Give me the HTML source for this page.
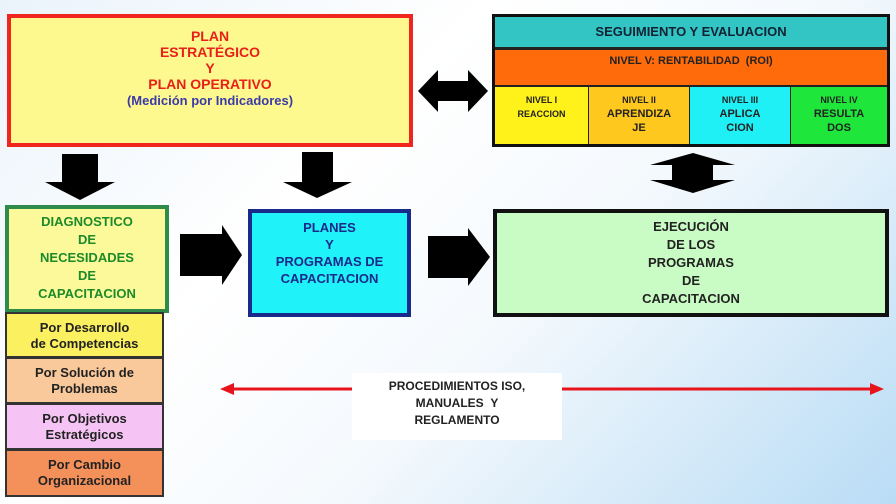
<!DOCTYPE html>
<html><head><meta charset="utf-8"><style>
html,body{margin:0;padding:0}
body{width:896px;height:504px;overflow:hidden;background:linear-gradient(135deg,#eaf3fb 0%,#ffffff 35%,#f4f9fd 60%,#b9dcf5 100%);position:relative;font-family:"Liberation Sans",sans-serif;font-weight:bold}
.b{position:absolute;box-sizing:border-box;text-align:center}
svg{position:absolute;left:0;top:0}
</style></head><body>
<svg width="896" height="504">
<g fill="#000">
<polygon points="418,91 438,70 438,81 468,81 468,70 488,91 468,112 468,101 438,101 438,112"/>
<polygon points="693,153 735,165 713,165 713,180 735,180 693,193 650,180 672,180 672,165 650,165"/>
<polygon points="62,154 98,154 98,182 115,182 80,200 45,182 62,182"/>
<polygon points="302,152 333,152 333,182 352,182 317,198 283,182 302,182"/>
<polygon points="180,234 222,234 222,225 242,255 222,285 222,276 180,276"/>
<polygon points="428,236 468,236 468,228 490,257 468,286 468,278 428,278"/>
</g>
<line x1="232" y1="389" x2="874" y2="389" stroke="#e8141c" stroke-width="3"/>
<polygon points="220,389 234,383 234,395" fill="#e8141c"/>
<polygon points="884,389 870,383 870,395" fill="#e8141c"/>
</svg>

<div class="b" style="left:7px;top:14px;width:406px;height:133px;border:4px solid #f0261e;background:#fdf98f;padding-top:10px;color:#e8201a;font-size:14px;line-height:16px">PLAN<br>ESTRATÉGICO<br>Y<br>PLAN OPERATIVO<br><span style="color:#3a3aa8;font-size:13px">(Medición por Indicadores)</span></div>

<div class="b" style="left:492px;top:14px;width:398px;height:133px;border:3px solid #111;background:#222"></div>
<div class="b" style="left:495px;top:17px;width:392px;height:30px;background:#33c4c4;color:#123;font-size:13px;line-height:30px">SEGUIMIENTO Y EVALUACION</div>
<div class="b" style="left:495px;top:50px;width:392px;height:35px;background:#ff6a0a;color:#222;font-size:11px;line-height:22px">NIVEL V: RENTABILIDAD &nbsp;(ROI)</div>
<div class="b" style="left:495px;top:87px;width:93px;height:57px;background:#fff21a;color:#222;font-size:9px;line-height:14px;padding-top:6px">NIVEL I<br>REACCION</div>
<div class="b" style="left:589px;top:87px;width:100px;height:57px;background:#ffc81e;color:#222;font-size:11px;line-height:14px;padding-top:6px"><span style="font-size:9px">NIVEL II</span><br>APRENDIZA<br>JE</div>
<div class="b" style="left:690px;top:87px;width:100px;height:57px;background:#1ff0f5;color:#222;font-size:11px;line-height:14px;padding-top:6px"><span style="font-size:9px">NIVEL III</span><br>APLICA<br>CION</div>
<div class="b" style="left:791px;top:87px;width:96px;height:57px;background:#1ee63a;color:#222;font-size:11px;line-height:14px;padding-top:6px"><span style="font-size:9px">NIVEL IV</span><br>RESULTA<br>DOS</div>

<div class="b" style="left:5px;top:205px;width:164px;height:108px;border:4px solid #2e8b4a;background:#fbf99a;color:#1d8a2a;font-size:13px;line-height:18px;padding-top:4px">DIAGNOSTICO<br>DE<br>NECESIDADES<br>DE<br>CAPACITACION</div>
<div class="b" style="left:5px;top:312px;width:159px;height:46px;border:2px solid #333;background:#fbf060;color:#222;font-size:13px;line-height:16px;padding-top:6px">Por Desarrollo<br>de Competencias</div>
<div class="b" style="left:5px;top:357px;width:159px;height:47px;border:2px solid #333;background:#f9c99c;color:#222;font-size:13px;line-height:16px;padding-top:6px">Por Solución de<br>Problemas</div>
<div class="b" style="left:5px;top:403px;width:159px;height:47px;border:2px solid #333;background:#f6c4f4;color:#222;font-size:13px;line-height:16px;padding-top:6px">Por Objetivos<br>Estratégicos</div>
<div class="b" style="left:5px;top:449px;width:159px;height:48px;border:2px solid #333;background:#f4905a;color:#222;font-size:13px;line-height:16px;padding-top:6px">Por Cambio<br>Organizacional</div>

<div class="b" style="left:248px;top:209px;width:163px;height:108px;border:4px solid #1a2a8a;background:#1ff2f8;color:#1a2a8a;font-size:13px;line-height:17px;padding-top:6px">PLANES<br>Y<br>PROGRAMAS DE<br>CAPACITACION</div>

<div class="b" style="left:493px;top:209px;width:396px;height:108px;border:4px solid #111;background:#c8fcc4;color:#222;font-size:13px;line-height:18px;padding-top:5px">EJECUCIÓN<br>DE LOS<br>PROGRAMAS<br>DE<br>CAPACITACION</div>

<div class="b" style="left:352px;top:373px;width:210px;height:67px;background:#fff;color:#222;font-size:12px;line-height:17px;padding-top:5px">PROCEDIMIENTOS ISO,<br>MANUALES &nbsp;Y<br>REGLAMENTO</div>
</body></html>
